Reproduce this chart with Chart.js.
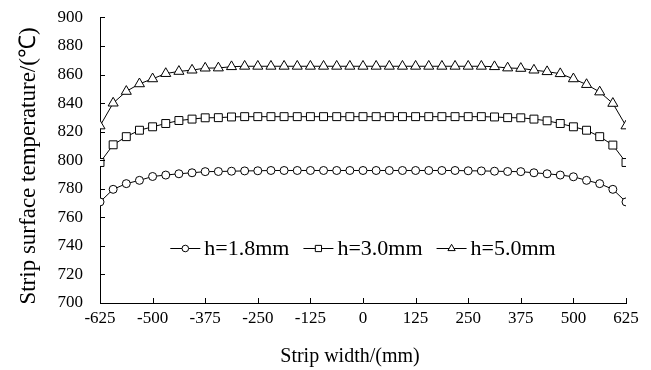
<!DOCTYPE html>
<html>
<head>
<meta charset="utf-8">
<script src="https://cdn.jsdelivr.net/npm/chart.js@4/dist/chart.umd.min.js"></script>
<style>
html,body{margin:0;padding:0;background:#fff;}
#wrap{width:651px;height:370px;}
</style>
</head>
<body>
<div id="wrap"><canvas id="c" width="651" height="370"></canvas></div>
<script>
// ---- Data ----
const stripWidth = [-625,-593.75,-562.5,-531.25,-500,-468.75,-437.5,-406.25,-375,-343.75,-312.5,-281.25,-250,-218.75,-187.5,-156.25,-125,-93.75,-62.5,-31.25,0,31.25,62.5,93.75,125,156.25,187.5,218.75,250,281.25,312.5,343.75,375,406.25,437.5,468.75,500,531.25,562.5,593.75,625];
const temp18 = [770.8,779.6,783.6,785.9,788.6,789.6,790.5,791.2,792.0,792.1,792.3,792.5,792.6,792.8,792.8,792.8,792.8,792.8,792.8,792.8,792.8,792.8,792.8,792.8,792.8,792.8,792.8,792.8,792.6,792.5,792.3,792.1,792.0,791.2,790.5,789.6,788.4,785.9,783.6,779.6,770.8];
const temp30 = [798.4,810.8,816.5,821.0,823.4,825.7,827.8,828.8,829.7,829.8,830.3,830.5,830.5,830.5,830.5,830.5,830.5,830.5,830.5,830.5,830.5,830.5,830.5,830.5,830.5,830.5,830.5,830.5,830.5,830.5,830.3,829.8,829.7,828.8,827.6,825.7,823.4,821.0,816.5,810.6,798.4];
const temp50 = [824.0,840.0,848.2,853.5,857.0,860.7,862.2,863.1,864.5,864.6,865.5,865.8,865.8,865.8,865.8,865.8,865.8,865.8,865.8,865.8,865.8,865.8,865.8,865.8,865.8,865.8,865.8,865.8,865.8,865.8,865.5,864.6,864.3,863.1,862.0,860.6,857.0,853.0,847.8,839.8,824.0];
const seriesLabels = ['h=1.8mm','h=3.0mm','h=5.0mm'];
const xTicks = [-625,-500,-375,-250,-125,0,125,250,375,500,625];
const yTicks = [700,720,740,760,780,800,820,840,860,880,900];
const xTitle = 'Strip width/(mm)';
const yTitle = 'Strip surface temperature/(℃)';

const FONT = "'Liberation Serif','Times New Roman',serif";
const styles = ['circle','rect','triangle'];
const radii = [4,5.6,5.8];
const legRadii = [3.3,4.4,4.2];

function mk(vals){ return stripWidth.map((x,i)=>({x:x,y:vals[i]})); }

function drawMarker(ctx, style, x, y, r){
  ctx.beginPath();
  if(style==='circle'){ ctx.arc(x,y,r,0,Math.PI*2); }
  else if(style==='rect'){ const s=r*Math.SQRT1_2; ctx.rect(x-s,y-s,2*s,2*s); }
  else {
    const a = Math.PI/6;
    ctx.moveTo(x, y - r);
    ctx.lineTo(x + r*Math.cos(a), y + r*Math.sin(a));
    ctx.lineTo(x - r*Math.cos(a), y + r*Math.sin(a));
    ctx.closePath();
  }
  ctx.fillStyle='#fff'; ctx.fill();
  ctx.strokeStyle='#000'; ctx.lineWidth=1; ctx.stroke();
}

const innerTicks = {
  id:'innerTicks',
  afterDatasetsDraw(chart){
    const ctx = chart.ctx, xs = chart.scales.x, ys = chart.scales.y;
    ctx.save();
    ctx.strokeStyle='#000'; ctx.lineWidth=1;
    ctx.beginPath();
    yTicks.forEach(v=>{ const py=Math.round(ys.getPixelForValue(v))+0.5; ctx.moveTo(xs.left,py); ctx.lineTo(xs.left+5,py); });
    xTicks.forEach(v=>{ const px=Math.round(xs.getPixelForValue(v))+0.5; ctx.moveTo(px,ys.bottom); ctx.lineTo(px,ys.bottom-5); });
    ctx.stroke();
    ctx.restore();
  }
};

const axisTitles = {
  id:'axisTitles',
  afterDraw(chart){
    const ctx = chart.ctx;
    ctx.save();
    ctx.fillStyle='#000';
    ctx.textAlign='center'; ctx.textBaseline='middle';
    ctx.font = '20px ' + FONT;
    ctx.fillText(xTitle, 350, 357);
    ctx.translate(29, 166);
    ctx.rotate(-Math.PI/2);
    ctx.font = '23px ' + FONT;
    ctx.fillText(yTitle, 0, 0);
    ctx.restore();
  }
};

const inLegend = {
  id:'inLegend',
  afterDatasetsDraw(chart){
    const ctx = chart.ctx, area = chart.chartArea;
    ctx.save();
    ctx.font = '22px ' + FONT;
    const lineW = 30, gap = 4, spacing = 14;
    const widths = seriesLabels.map(t=>ctx.measureText(t).width);
    let total = 0;
    widths.forEach((w,i)=>{ total += lineW + gap + w + (i<widths.length-1?spacing:0); });
    let x = (area.left+area.right)/2 - total/2;
    const y = Math.round(chart.scales.y.getPixelForValue(738.5));
    seriesLabels.forEach((t,i)=>{
      ctx.strokeStyle='#000'; ctx.lineWidth=1;
      ctx.beginPath(); ctx.moveTo(x,y+0.5); ctx.lineTo(x+lineW,y+0.5); ctx.stroke();
      drawMarker(ctx, styles[i], x+lineW/2, y+0.5, legRadii[i]);
      ctx.fillStyle='#000'; ctx.textBaseline='middle'; ctx.textAlign='left';
      ctx.fillText(t, x+lineW+gap, y+1);
      x += lineW + gap + widths[i] + spacing;
    });
    ctx.restore();
  }
};

const datasets = [temp18,temp30,temp50].map((vals,i)=>({
  label: seriesLabels[i],
  data: mk(vals),
  borderColor:'#000',
  borderWidth:1,
  backgroundColor:'#fff',
  pointStyle: styles[i],
  pointRadius: radii[i],
  pointBorderColor:'#000',
  pointBackgroundColor:'#fff',
  pointBorderWidth:1,
  tension:0,
  fill:false
}));

new Chart(document.getElementById('c'), {
  type:'line',
  data:{ datasets },
  options:{
    responsive:false,
    animation:false,
    devicePixelRatio:1,
    layout:{ padding:{ left:0, right:25, top:15, bottom:0 } },
    plugins:{ legend:{display:false}, tooltip:{enabled:false} },
    scales:{
      x:{
        type:'linear', min:-625, max:625,
        afterBuildTicks(s){ s.ticks = xTicks.map(v=>({value:v})); },
        afterFit(s){ s.height = 67; },
        grid:{ display:true, drawOnChartArea:false, drawTicks:false },
        border:{ display:true, color:'#000', width:1 },
        ticks:{ color:'#000', font:{ family:FONT, size:17 }, padding:5, maxRotation:0, autoSkip:false },
        title:{ display:false }
      },
      y:{
        min:700, max:900,
        afterBuildTicks(s){ s.ticks = yTicks.map(v=>({value:v})); },
        afterFit(s){ s.width = 100; },
        grid:{ display:true, drawOnChartArea:false, drawTicks:false },
        border:{ display:true, color:'#000', width:1 },
        ticks:{ color:'#000', font:{ family:FONT, size:17, lineHeight:0.05 }, padding:17 },
        title:{ display:false }
      }
    }
  },
  plugins:[innerTicks, inLegend, axisTitles]
});
</script>
</body>
</html>
